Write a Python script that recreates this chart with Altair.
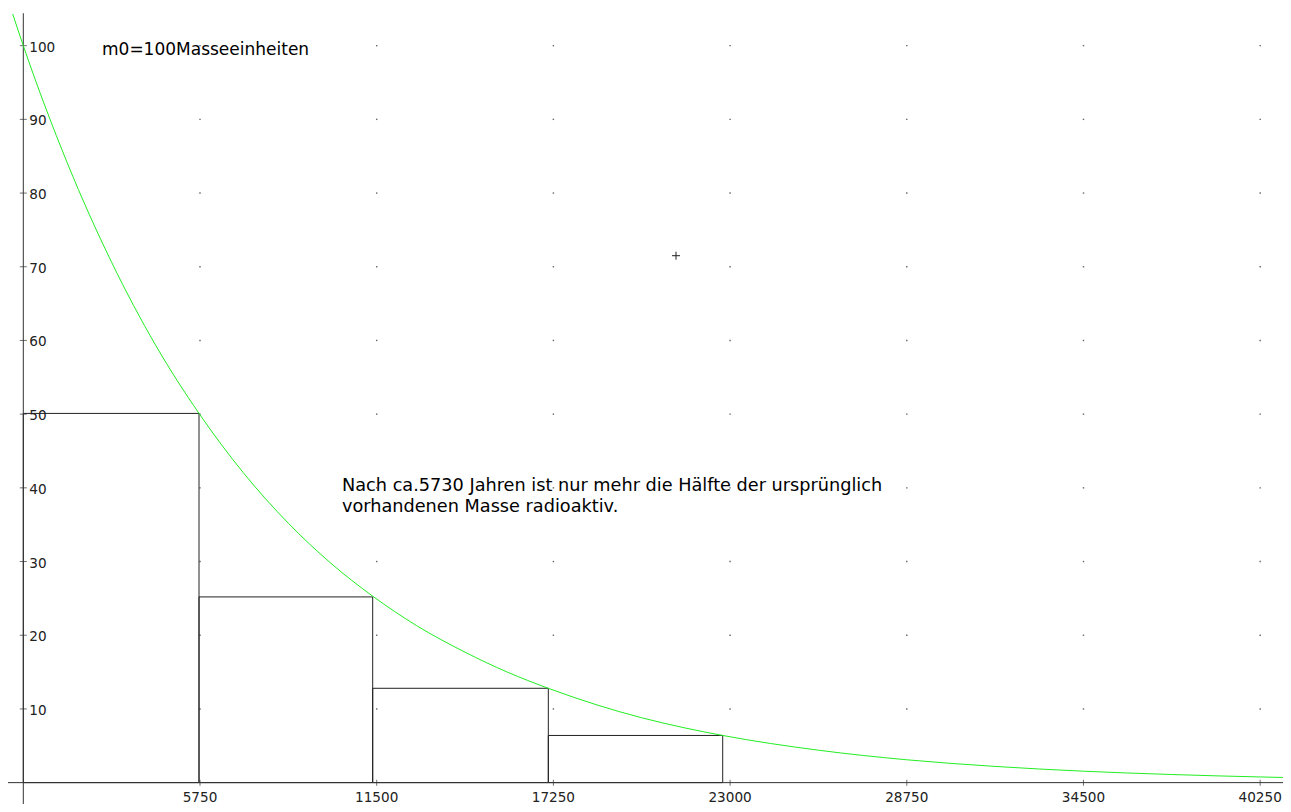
import altair as alt
import pandas as pd

# --- data ---
curve_t = [-345, 0, 1430, 2875, 4300, 5718, 7150, 8625, 10000, 11370, 12800, 14375,
           15750, 17085, 18700, 20125, 21500, 22760, 25875, 28750, 31625, 34500,
           37375, 40250, 40990]
curve_m = [104.3, 100, 84.1, 70.6, 59.4, 50.1, 42.1, 35.2, 29.8, 25.3, 21.3, 17.7,
           15.0, 12.8, 10.5, 8.8, 7.45, 6.4, 4.4, 3.1, 2.2, 1.55,
           1.1, 0.77, 0.70]

rect_x0 = [0, 5718, 11370, 17085]
rect_x1 = [5718, 11370, 17085, 22760]
rect_h = [50.1, 25.2, 12.8, 6.4]

x_ticks = [5750, 11500, 17250, 23000, 28750, 34500, 40250]
y_ticks = [10, 20, 30, 40, 50, 60, 70, 80, 90, 100]

cross_t = [21240]
cross_m = [71.5]

label_m0 = "m0=100Masseeinheiten"
note_lines = ["Nach ca.5730 Jahren ist nur mehr die Hälfte der ursprünglich",
              "vorhandenen Masse radioaktiv."]

# --- scales ---
T_MIN, T_MAX = -497.9, 40992.5
M_MIN, M_MAX = -2.90, 105.11
xs = alt.Scale(domain=[T_MIN, T_MAX], zero=False, nice=False)
ys = alt.Scale(domain=[M_MIN, M_MAX], zero=False, nice=False)

def X(f="t"):
    return alt.X(f"{f}:Q", scale=xs, axis=None)

def Y(f="m"):
    return alt.Y(f"{f}:Q", scale=ys, axis=None)

FONT = "DejaVu Sans"

grid_df = pd.DataFrame([(t, m) for t in x_ticks for m in y_ticks], columns=["t", "m"])
grid = alt.Chart(grid_df).mark_point(shape="square", filled=True, size=2,
                                     color="#666", opacity=1).encode(x=X(), y=Y())

rect_df = pd.DataFrame({"t": rect_x0, "t2": rect_x1, "m": [0] * 4, "m2": rect_h})
rects = alt.Chart(rect_df).mark_rect(fill="transparent", stroke="#222",
                                     strokeWidth=1).encode(
    x=X(), x2="t2:Q", y=Y(), y2="m2:Q")

xaxis_df = pd.DataFrame({"t": [T_MIN], "t2": [T_MAX], "m": [0]})
xaxis = alt.Chart(xaxis_df).mark_rule(color="#333", strokeWidth=1).encode(
    x=X(), x2="t2:Q", y=Y())

yaxis_df = pd.DataFrame({"t": [0], "m": [M_MIN], "m2": [104.4]})
yaxis = alt.Chart(yaxis_df).mark_rule(color="#333", strokeWidth=1).encode(
    x=X(), y=Y(), y2="m2:Q")

xt_df = pd.DataFrame({"t": x_ticks, "m": [0] * len(x_ticks),
                      "lab": [str(v) for v in x_ticks]})
yt_df = pd.DataFrame({"t": [0] * len(y_ticks), "m": y_ticks,
                      "lab": [str(v) for v in y_ticks]})

xtick_marks = alt.Chart(xt_df).mark_tick(orient="vertical", size=6, thickness=1,
                                         color="#333").encode(x=X(), y=Y())
ytick_marks = alt.Chart(yt_df).mark_tick(orient="horizontal", size=7, thickness=1,
                                         color="#333").encode(x=X(), y=Y())

xlabels = alt.Chart(xt_df).mark_text(align="center", baseline="alphabetic", dy=19,
                                     font=FONT, fontSize=13.6, color="#222").encode(
    x=X(), y=Y(), text="lab:N")
ylabels = alt.Chart(yt_df).mark_text(align="left", baseline="alphabetic", dx=6, dy=6,
                                     font=FONT, fontSize=13.6, color="#222").encode(
    x=X(), y=Y(), text="lab:N")

curve_df = pd.DataFrame({"t": curve_t, "m": curve_m})
curve = alt.Chart(curve_df).mark_line(color="#22ee22", strokeWidth=1,
                                      interpolate="monotone").encode(x=X(), y=Y())

cross_df = pd.DataFrame({"t": cross_t, "m": cross_m})
cross = alt.Chart(cross_df).mark_point(shape="M-1,0L1,0M0,-1L0,1", size=64,
                                       filled=False, stroke="#222",
                                       strokeWidth=1, opacity=1).encode(x=X(), y=Y())

m0_df = pd.DataFrame({"t": [2561], "m": [98.74], "txt": [label_m0]})
m0 = alt.Chart(m0_df).mark_text(align="left", baseline="alphabetic", font=FONT,
                                fontSize=17, color="#000").encode(
    x=X(), y=Y(), text="txt:N")

note_df = pd.DataFrame({"t": [10371, 10371], "m": [39.59, 36.77], "txt": note_lines})
note = alt.Chart(note_df).mark_text(align="left", baseline="alphabetic", font=FONT,
                                    fontSize=17.7, color="#000").encode(
    x=X(), y=Y(), text="txt:N")

chart = alt.layer(grid, rects, xaxis, yaxis, xtick_marks, ytick_marks, xlabels,
                  ylabels, curve, cross, m0, note).properties(
    width=1275, height=796, padding=0, background="white",
    autosize=alt.AutoSizeParams(type="none")
).configure_view(stroke=None)

chart.save("out.html", embed_options={"renderer": "svg", "actions": False})
